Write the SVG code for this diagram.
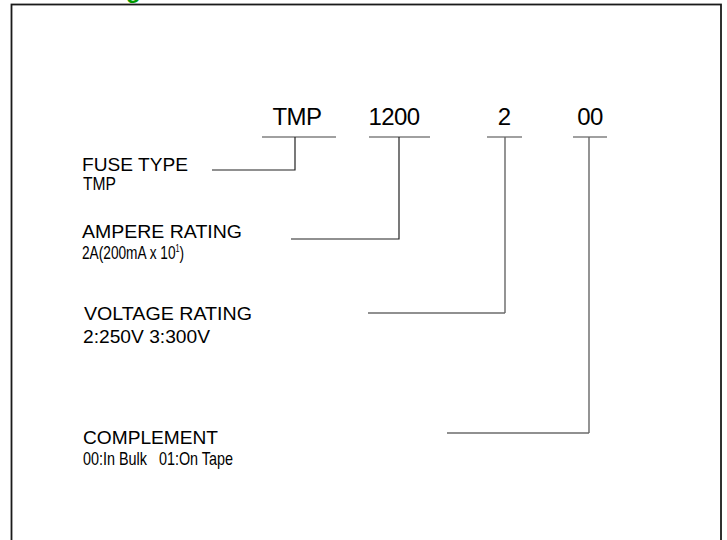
<svg xmlns="http://www.w3.org/2000/svg" width="727" height="540" viewBox="0 0 727 540">
<style>
.big{font-family:"Liberation Sans",Arial,sans-serif;font-size:24px;fill:#000;text-anchor:middle;letter-spacing:-0.6px}
.lbl{font-family:"Liberation Sans",Arial,sans-serif;font-size:19px;fill:#000;white-space:pre}
.ul{stroke:#808080;stroke-width:1.6;fill:none}
.cn{stroke:#222;stroke-width:1.2;fill:none}
.cg{stroke:#666;stroke-width:1.4;fill:none}
</style>
<rect x="0" y="0" width="727" height="540" fill="#fff"/>
<text x="126" y="-2" font-family="Liberation Sans,Arial,sans-serif" font-weight="bold" font-size="24" fill="#009a00">g</text>
<rect x="11.5" y="4.5" width="709.5" height="545" fill="none" stroke="#1a1a1a" stroke-width="1.8"/>
<g id="code-tmp"><text class="big" x="297" y="125">TMP</text><line class="ul" x1="262" y1="137" x2="336" y2="137"/></g>
<g id="code-1200"><text class="big" x="394" y="125">1200</text><line class="ul" x1="369" y1="137" x2="430" y2="137"/></g>
<g id="code-2"><text class="big" x="504" y="125">2</text><line class="ul" x1="487" y1="137" x2="522" y2="137"/></g>
<g id="code-00"><text class="big" x="590" y="125">00</text><line class="ul" x1="573" y1="137" x2="607" y2="137"/></g>
<g id="fuse-type"><text class="lbl" x="82" y="170.5" textLength="106" lengthAdjust="spacingAndGlyphs">FUSE TYPE</text><text class="lbl" x="83" y="189.5" textLength="33" lengthAdjust="spacingAndGlyphs">TMP</text></g>
<g id="ampere-rating"><text class="lbl" x="82" y="237.5" textLength="160" lengthAdjust="spacingAndGlyphs">AMPERE RATING</text><text class="lbl" transform="translate(82,259) scale(0.72,1)" x="0" y="0">2A(200mA x 10<tspan font-size="10" dy="-7">1</tspan><tspan dy="7">)</tspan></text></g>
<g id="voltage-rating"><text class="lbl" x="84" y="319.5" textLength="168" lengthAdjust="spacingAndGlyphs">VOLTAGE RATING</text><text class="lbl" x="83" y="342.5" textLength="127" lengthAdjust="spacingAndGlyphs">2:250V 3:300V</text></g>
<g id="complement"><text class="lbl" x="83" y="443.5" textLength="135" lengthAdjust="spacingAndGlyphs">COMPLEMENT</text><text class="lbl" x="83" y="464.5" xml:space="preserve" textLength="150" lengthAdjust="spacingAndGlyphs">00:In Bulk   01:On Tape</text></g>
<g id="connectors">
<polyline class="cn" points="212,170 295,170 295,137"/>
<polyline class="cn" points="291,239 399,239 399,137"/>
<polyline class="cn" points="368,313 505,313"/>
<line class="cg" x1="505" y1="137" x2="505" y2="313"/>
<polyline class="cn" points="447,433 589,433"/>
<line class="cg" x1="589" y1="137" x2="589" y2="433"/>
</g>
</svg>
